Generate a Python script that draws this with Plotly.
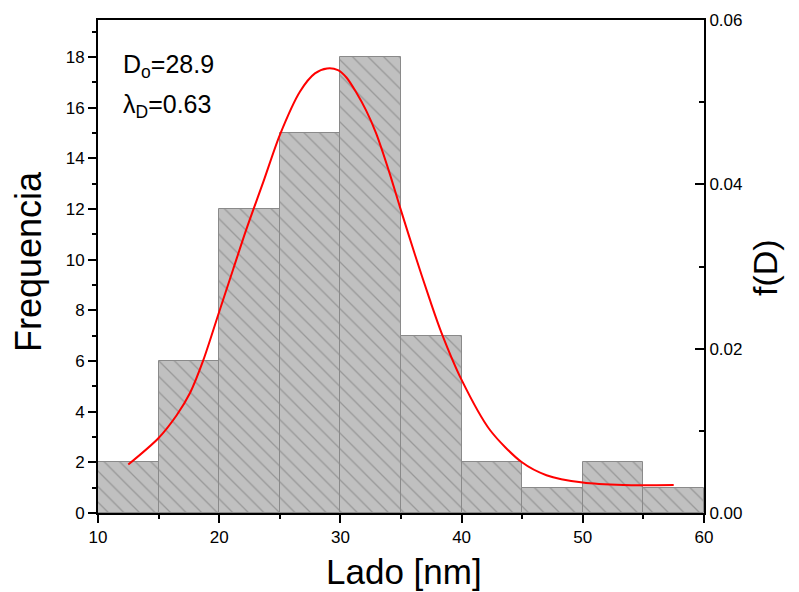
import plotly.graph_objects as go

# Histogram data (bin centres, counts)
bin_centers = [12.5, 17.5, 22.5, 27.5, 32.5, 37.5, 42.5, 47.5, 52.5, 57.5]
counts = [2, 6, 12, 15, 18, 7, 2, 1, 2, 1]
bin_width = 5

# Fitted distribution f(D) (right axis)
curve_x = [12.5, 14.98, 16.49, 17.59, 18.69, 20.0, 21.16, 22.21, 23.64, 25.0, 26.67,
           27.9, 28.9, 29.8, 30.5, 31.3, 32.12, 32.95, 34.05, 34.92, 36.16, 37.39,
           38.35, 40.0, 42.34, 44.95, 47.0, 50.0, 53.35, 57.5]
curve_y = [0.0059, 0.0091, 0.0119, 0.0146, 0.0186, 0.0245, 0.0297, 0.0344, 0.0403,
           0.0460, 0.0513, 0.0535, 0.0541, 0.0539, 0.0530, 0.0512, 0.0490, 0.0462,
           0.0414, 0.0372, 0.0314, 0.0259, 0.0219, 0.0162, 0.0101, 0.0062, 0.0046,
           0.0037, 0.0034, 0.0034]

x_ticks = [10, 20, 30, 40, 50, 60]
y_ticks = [0, 2, 4, 6, 8, 10, 12, 14, 16, 18]
y2_ticks = [0.0, 0.02, 0.04, 0.06]

font = "Liberation Sans, Arial, sans-serif"

fig = go.Figure()
fig.add_trace(go.Bar(
    x=bin_centers, y=counts, width=bin_width,
    marker=dict(color="#c0c0c0",
                line=dict(color="#8a8a8a", width=1),
                pattern=dict(shape="\\", fgcolor="#707070", bgcolor="#c0c0c0",
                             size=11, solidity=0.12, fillmode="overlay")),
    yaxis="y", showlegend=False,
))
fig.add_trace(go.Scatter(
    x=curve_x, y=curve_y, mode="lines",
    line=dict(color="#ff0000", width=2, shape="spline", smoothing=0.8),
    yaxis="y2", showlegend=False,
))

fig.update_layout(
    width=791, height=584,
    margin=dict(l=90, r=95, t=12, b=79, autoexpand=False),
    paper_bgcolor="white", plot_bgcolor="white",
    font=dict(family=font, size=17, color="black"),
    bargap=0,
    xaxis=dict(
        range=[10, 60], tickvals=x_ticks, ticktext=[str(v) for v in x_ticks],
        showgrid=False, zeroline=False, showline=True, linecolor="black", linewidth=2,
        mirror=True, ticks="outside", ticklen=8, tickwidth=2, tickcolor="black",
        minor=dict(ticks="outside", ticklen=4, tickwidth=2, tickcolor="black", dtick=5),
        tickfont=dict(size=17), automargin=False,
    ),
    yaxis=dict(
        range=[0, 19.46], tickvals=y_ticks, ticktext=[str(v) for v in y_ticks],
        showgrid=False, zeroline=False, showline=True, linecolor="black", linewidth=2,
        ticks="outside", ticklen=8, tickwidth=2, tickcolor="black",
        minor=dict(ticks="outside", ticklen=4, tickwidth=2, tickcolor="black", dtick=1),
        tickfont=dict(size=17), automargin=False,
    ),
    yaxis2=dict(
        range=[0, 0.06], overlaying="y", side="right",
        tickvals=y2_ticks, ticktext=["0.00", "0.02", "0.04", "0.06"],
        showgrid=False, zeroline=False, showline=True, linecolor="black", linewidth=2,
        ticks="inside", ticklen=9, tickwidth=2, tickcolor="black",
        minor=dict(ticks="inside", ticklen=5, tickwidth=2, tickcolor="black", dtick=0.01),
        tickfont=dict(size=17), automargin=False,
    ),
    annotations=[
        dict(xref="paper", yref="paper", x=(121 - 98) / 606, y=(513 - 66) / 493,
             xanchor="left", yanchor="middle",
             text="D<sub>o</sub>=28.9", showarrow=False, font=dict(size=25, family=font)),
        dict(xref="paper", yref="paper", x=(121 - 98) / 606, y=(513 - 106) / 493,
             xanchor="left", yanchor="middle",
             text="λ<sub>D</sub>=0.63", showarrow=False, font=dict(size=25, family=font)),
        # axis titles
        dict(xref="paper", yref="paper", x=(404 - 98) / 606, y=(513 - 571) / 493,
             xanchor="center", yanchor="middle", text="Lado [nm]", showarrow=False,
             font=dict(size=35, family=font)),
        dict(xref="paper", yref="paper", x=(28 - 98) / 606, y=(513 - 262) / 493,
             xanchor="center", yanchor="middle", text="Frequencia", showarrow=False,
             textangle=-90, font=dict(size=36, family=font)),
        dict(xref="paper", yref="paper", x=(765 - 98) / 606, y=(513 - 268) / 493,
             xanchor="center", yanchor="middle", text="f(D)", showarrow=False,
             textangle=-90, font=dict(size=34, family=font)),
    ],
)

fig.write_html("out.html")
